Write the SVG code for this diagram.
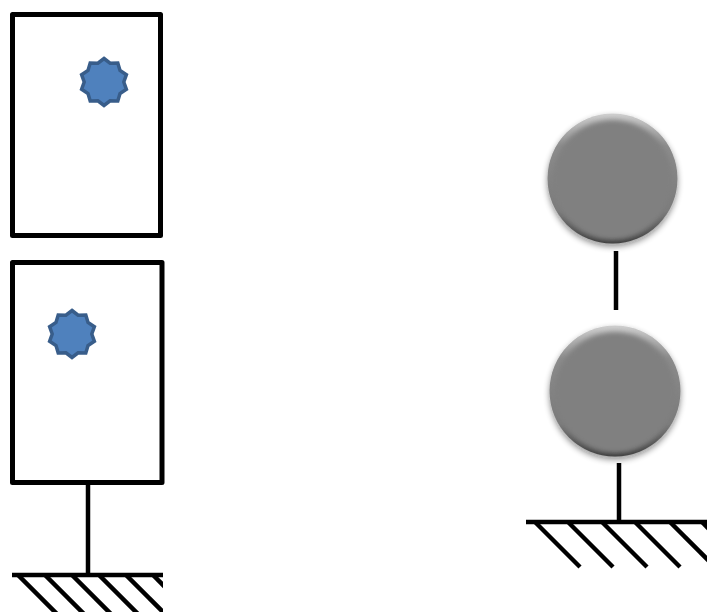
<svg xmlns="http://www.w3.org/2000/svg" width="707" height="612" viewBox="0 0 707 612">
<style>
.frame{fill:none;stroke:#000;stroke-width:5;stroke-linejoin:round}
.line{fill:none;stroke:#000;stroke-width:4.5}
.hatch{fill:none;stroke:#000;stroke-width:4.5}
.star{fill:#4F81BD;stroke:#385D8A;stroke-width:3.5;stroke-linejoin:miter}
</style>
<defs>
<polygon id="star10" points="0,-23.5 6.1,-18.8 13.8,-19 16,-11.6 22.4,-7.3 19.8,0 22.4,7.3 16,11.6 13.8,19 6.1,18.8 0,23.5 -6.1,18.8 -13.8,19 -16,11.6 -22.4,7.3 -19.8,0 -22.4,-7.3 -16,-11.6 -13.8,-19 -6.1,-18.8"/>
<linearGradient id="rim" x1="0" y1="0" x2="0" y2="1">
<stop offset="0" stop-color="#d0d0d0"/>
<stop offset="0.25" stop-color="#8c8c8c"/>
<stop offset="0.75" stop-color="#7a7a7a"/>
<stop offset="1" stop-color="#3a3a3a"/>
</linearGradient>
<filter id="shadow" x="-30%" y="-30%" width="160%" height="160%">
<feGaussianBlur in="SourceAlpha" stdDeviation="3"/>
<feOffset dx="0" dy="3" result="b"/>
<feComponentTransfer><feFuncA type="linear" slope="0.45"/></feComponentTransfer>
<feMerge><feMergeNode/><feMergeNode in="SourceGraphic"/></feMerge>
</filter>
<filter id="soft" x="-10%" y="-10%" width="120%" height="120%">
<feGaussianBlur stdDeviation="2.5"/>
</filter>
<clipPath id="clipL"><rect x="12" y="575" width="151" height="40"/></clipPath>
<clipPath id="clipR"><rect x="526" y="520" width="181" height="60"/></clipPath>
</defs>

<g id="connectors">
<line class="line" x1="88" y1="483" x2="88" y2="575"/>
<line class="line" x1="616" y1="251" x2="616" y2="310"/>
<line class="line" x1="619" y1="463" x2="619" y2="522"/>
</g>

<g id="ground-left">
<line class="line" x1="12" y1="575" x2="163" y2="575" stroke-width="5"/>
<g clip-path="url(#clipL)">
<line class="hatch" x1="18" y1="575" x2="58" y2="615"/>
<line class="hatch" x1="45" y1="575" x2="85" y2="615"/>
<line class="hatch" x1="72" y1="575" x2="112" y2="615"/>
<line class="hatch" x1="99" y1="575" x2="139" y2="615"/>
<line class="hatch" x1="126" y1="575" x2="166" y2="615"/>
<line class="hatch" x1="153" y1="575" x2="193" y2="615"/>
</g>
</g>

<g id="ground-right">
<line class="line" x1="526" y1="522" x2="707" y2="522"/>
<g clip-path="url(#clipR)">
<line class="hatch" x1="535" y1="522" x2="580" y2="567"/>
<line class="hatch" x1="568" y1="522" x2="613" y2="567"/>
<line class="hatch" x1="602" y1="522" x2="647" y2="567"/>
<line class="hatch" x1="635" y1="522" x2="680" y2="567"/>
<line class="hatch" x1="670" y1="522" x2="715" y2="567"/>
<line class="hatch" x1="702" y1="522" x2="747" y2="567"/>
</g>
</g>

<g id="box-top">
<rect class="frame" x="12.5" y="14.5" width="148" height="221"/>
<use href="#star10" class="star" x="104" y="82"/>
</g>

<g id="box-bottom">
<rect class="frame" x="12.5" y="262.5" width="149.5" height="220"/>
<use href="#star10" class="star" x="72" y="334"/>
</g>

<g id="ball-top" filter="url(#shadow)">
<circle cx="612.5" cy="178.5" r="65" fill="url(#rim)"/>
<circle cx="612.5" cy="180" r="60" fill="#808080" filter="url(#soft)"/>
</g>

<g id="ball-bottom" filter="url(#shadow)">
<circle cx="615" cy="391" r="65.5" fill="url(#rim)"/>
<circle cx="615" cy="392.5" r="60.5" fill="#808080" filter="url(#soft)"/>
</g>
</svg>
